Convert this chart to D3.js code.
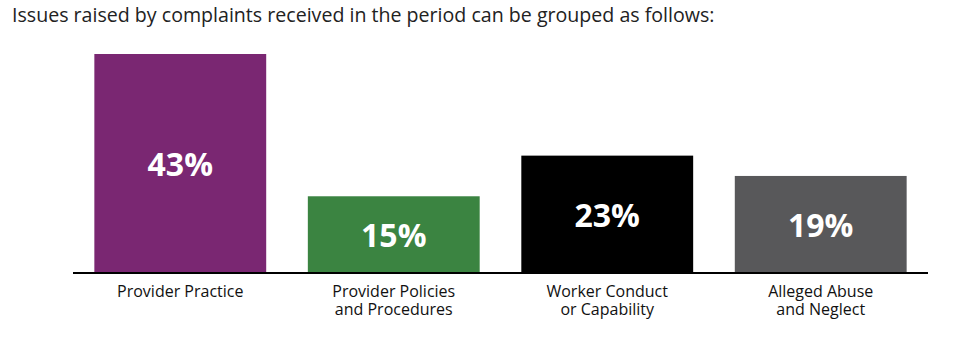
<!DOCTYPE html>
<html><head><meta charset="utf-8">
<script src="https://cdn.jsdelivr.net/npm/d3@7"></script>
<style>body{margin:0;background:#fff;} text{font-family:"Open Sans",sans-serif;}</style>
</head><body>
<svg id="c" width="964" height="340"></svg>
<script>
const title = "Issues raised by complaints received in the period can be grouped as follows:";
const categories = ["Provider Practice", "Provider Policies and Procedures", "Worker Conduct or Capability", "Alleged Abuse and Neglect"];
const categoryLines = [["Provider Practice"], ["Provider Policies", "and Procedures"], ["Worker Conduct", "or Capability"], ["Alleged Abuse", "and Neglect"]];
const values = [43, 15, 23, 19];
const colors = ["#7a2772", "#3b8441", "#000000", "#58585a"];

const svg = d3.select("#c");
const baseY = 272.5;
const x = d3.scaleBand().domain(categories).range([73, 928]).paddingInner(0.195).paddingOuter(0.1);
const y = d3.scaleLinear().domain([0, 43]).range([baseY, 54]);

svg.append("text").attr("x", 12).attr("y", 22).attr("font-size", 19.6).attr("fill", "#222").text(title);

const g = svg.append("g");
g.selectAll("rect").data(values).join("rect")
  .attr("x", (d,i) => x(categories[i]))
  .attr("y", d => y(d))
  .attr("width", x.bandwidth())
  .attr("height", d => baseY - y(d))
  .attr("fill", (d,i) => colors[i]);

g.selectAll("text.v").data(values).join("text").attr("class","v")
  .attr("x", (d,i) => x(categories[i]) + x.bandwidth()/2)
  .attr("y", d => (y(d) + baseY)/2 + 1)
  .attr("dy", "0.36em")
  .attr("text-anchor", "middle")
  .attr("font-size", 32).attr("font-weight", "bold").attr("fill", "#fff")
  .text(d => d + "%");

svg.append("line").attr("x1", 73).attr("x2", 928).attr("y1", baseY+0.5).attr("y2", baseY+0.5)
  .attr("stroke", "#000").attr("stroke-width", 2);

categoryLines.forEach((lines, i) => {
  lines.forEach((l, j) => {
    svg.append("text").attr("text-anchor","middle").attr("font-size", 16).attr("fill", "#111")
      .attr("x", x(categories[i]) + x.bandwidth()/2).attr("y", 297 + j*18).text(l);
  });
});
</script>
</body></html>
